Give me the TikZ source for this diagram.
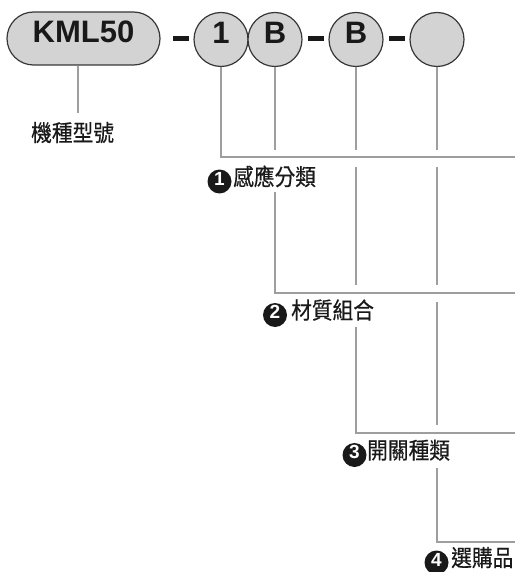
\documentclass[tikz,border=0pt]{standalone}
\usepackage{fontspec}
\setmainfont{Liberation Sans}
\newfontfamily\cjk[FakeStretch=0.9,FakeBold=0.5]{Noto Sans CJK TC}
\definecolor{boxfill}{RGB}{211,211,211}
\definecolor{boxline}{RGB}{55,55,55}
\definecolor{linegray}{RGB}{158,158,158}
\definecolor{inkblack}{RGB}{25,25,25}
\begin{document}
\begin{tikzpicture}[x=1pt,y=-1pt,
  codepart/.style={draw=boxline,fill=boxfill,line width=1.2pt,inner sep=0pt,text=inkblack,
    font=\fontsize{31}{31}\selectfont\bfseries,text height=0.716em,text depth=0pt},
  codecircle/.style={codepart,circle,minimum size=54pt},
  pill/.style={codepart,rectangle,rounded corners=26.5pt,minimum width=153pt,minimum height=53pt},
  dashbar/.style={fill=inkblack,minimum width=16pt,minimum height=5pt,inner sep=0pt},
  lead/.style={draw=linegray,line width=2.8pt,line join=miter},
  numdot/.style={circle,fill=inkblack,text=white,minimum size=24pt,inner sep=0pt,
    font=\fontsize{19}{19}\selectfont\bfseries,text height=0.716em,text depth=0pt},
  lbl/.style={anchor=west,inner sep=0pt,text=inkblack,font=\cjk\fontsize{23}{23}\selectfont,
    text height=0.76em,text depth=0pt}]
\useasboundingbox (0,0) rectangle (515,572);

% code row
\node[pill] (model) at (83.5,38.5) {KML50};
\node[dashbar] (d1) at (181,38.5) {};
\node[codecircle] (c1) at (221,39.5) {1};
\node[codecircle] (c2) at (275,39.5) {B};
\node[dashbar] (d2) at (315.5,38.5) {};
\node[codecircle] (c3) at (356,39.5) {B};
\node[dashbar] (d3) at (397,38.5) {};
\node[codecircle] (c4) at (437,39.5) {};

% labels
\node[lbl] (t0) at (31,137.5) {機種型號};
\node[numdot] (n1) at (219.5,181.5) {1};
\node[lbl] (t1) at (233,181.5) {感應分類};
\node[numdot] (n2) at (275,315) {2};
\node[lbl] (t2) at (291,315) {材質組合};
\node[numdot] (n3) at (354.5,455) {3};
\node[lbl] (t3) at (367,455) {開關種類};
\node[numdot] (n4) at (436.5,562.5) {4};
\node[lbl] (t4) at (451,562.5) {選購品};

% coordinates of leads
\coordinate (m0) at (78,113);
\coordinate (k1) at (221,157);
\coordinate (e1) at (515,157);
\coordinate (a2) at (275,150);
\coordinate (b2) at (275,192);
\coordinate (k2) at (275,293);
\coordinate (e2) at (515,293);
\coordinate (a3) at (356,150);
\coordinate (b3) at (356,167);
\coordinate (f3) at (356,285);
\coordinate (g3) at (356,327);
\coordinate (k3) at (356,433);
\coordinate (e3) at (515,433);
\coordinate (a4) at (437,150);
\coordinate (b4) at (437,167);
\coordinate (f4) at (437,285);
\coordinate (g4) at (437,302);
\coordinate (h4) at (437,425);
\coordinate (i4) at (437,468);
\coordinate (k4) at (437,542);
\coordinate (e4) at (515,542);

% leads
\draw[lead] (model.south -| m0) -- (m0);
\draw[lead] (c1.south) -- (k1) -- (e1);
\draw[lead] (c2.south) -- (a2);
\draw[lead] (b2) -- (k2) -- (e2);
\draw[lead] (c3.south) -- (a3);
\draw[lead] (b3) -- (f3);
\draw[lead] (g3) -- (k3) -- (e3);
\draw[lead] (c4.south) -- (a4);
\draw[lead] (b4) -- (f4);
\draw[lead] (g4) -- (h4);
\draw[lead] (i4) -- (k4) -- (e4);
\end{tikzpicture}
\end{document}
